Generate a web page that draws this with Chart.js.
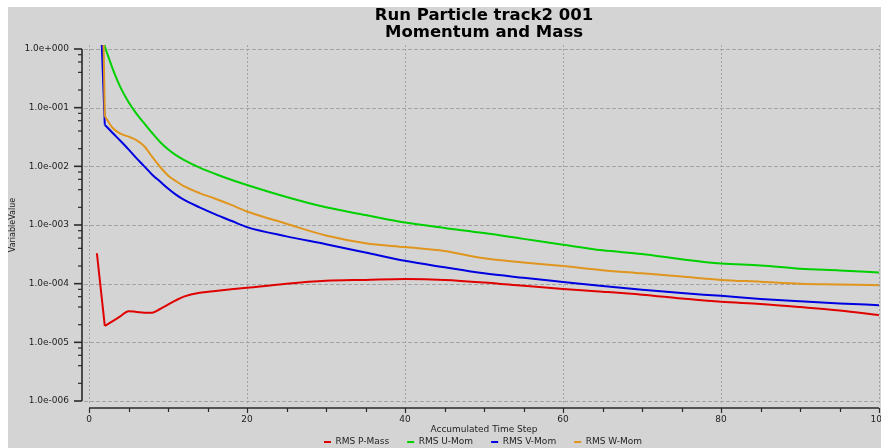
<!DOCTYPE html>
<html>
<head>
<meta charset="utf-8">
<script src="https://cdn.jsdelivr.net/npm/chart.js@4.4.1/dist/chart.umd.min.js"></script>
<style>
  html, body { margin: 0; padding: 0; background: #ffffff; width: 881px; height: 448px; overflow: hidden; }
  #wrap { position: absolute; left: 8px; top: 7px; width: 873px; height: 441px; }
  #chart { background: #d4d4d4; display: block; }
</style>
</head>
<body>
<div id="wrap"><canvas id="chart" width="873" height="441"></canvas></div>
<script>
// Accumulated time steps at which the residuals are sampled
const steps = [1, 2, 3, 4, 5, 6, 7, 8, 9, 10, 11, 12, 14, 16, 18, 20, 25, 30, 35, 40, 45,
               50, 55, 60, 65, 70, 75, 80, 85, 90, 95, 100];

// RMS residuals per equation
const rmsPMass = [3.3e-4, 1.9e-5, 2.3e-5, 2.8e-5, 3.4e-5, 3.3e-5, 3.2e-5, 3.2e-5, 3.7e-5, 4.4e-5, 5.2e-5,
                  6.0e-5, 7.0e-5, 7.5e-5, 8.0e-5, 8.5e-5, 1.0e-4, 1.12e-4, 1.16e-4, 1.2e-4, 1.16e-4,
                  1.05e-4, 9.2e-5, 8.1e-5, 7.3e-5, 6.5e-5, 5.6e-5, 4.9e-5, 4.5e-5, 4.0e-5, 3.5e-5, 2.9e-5];
const rmsUMom  = [1e4, 1.1, 0.46, 0.22, 0.125, 0.079, 0.054, 0.037, 0.026, 0.0195, 0.0155,
                  0.0129, 0.0095, 0.0074, 0.0059, 0.0048, 0.0030, 0.0020, 0.00148, 0.0011, 0.00089,
                  0.00073, 0.00058, 0.00046, 0.00037, 0.00032, 0.00026, 0.00022, 0.000205, 0.00018, 0.000168, 0.000155];
const rmsVMom  = [200, 0.051, 0.037, 0.027, 0.0195, 0.0138, 0.010, 0.0072, 0.0055, 0.0042, 0.0033,
                  0.0027, 0.0020, 0.00152, 0.00118, 0.00092, 0.00064, 0.00047, 0.00034, 0.000245, 0.00019,
                  0.00015, 0.000126, 0.000107, 0.000091, 0.000079, 0.000069, 0.000062, 0.000055, 0.00005, 0.000046, 0.000043];
const rmsWMom  = [5e6, 0.072, 0.045, 0.036, 0.032, 0.028, 0.022, 0.0145, 0.0098, 0.0070, 0.0056,
                  0.0046, 0.0035, 0.0028, 0.0022, 0.0017, 0.00105, 0.00066, 0.00049, 0.00042, 0.00036,
                  0.00027, 0.00023, 0.0002, 0.00017, 0.00015, 0.000132, 0.000116, 0.000108, 0.0001, 0.000097, 0.000094];

const seriesLabels = ['RMS P-Mass', 'RMS U-Mom', 'RMS V-Mom', 'RMS W-Mom'];
const seriesColors = ['#e00000', '#00d000', '#0000e0', '#e0961e'];

// Axis ticks
const yTickValues = [1e-6, 1e-5, 1e-4, 1e-3, 1e-2, 1e-1, 1];
const yTickLabels = ['1.0e-006', '1.0e-005', '1.0e-004', '1.0e-003', '1.0e-002', '1.0e-001', '1.0e+000'];
const yMinorFactors = [2, 4, 6, 8];
const xMajorTicks = [0, 20, 40, 60, 80, 100];
const xMinorStep = 5;

const FONT = 'DejaVu Sans';
const TEXT = '#1e1e1e';

const allSeries = [rmsPMass, rmsUMom, rmsVMom, rmsWMom];

// Grid, offset axis lines with their tick marks, and the legend row
const axisDecor = {
  id: 'axisDecor',
  beforeDatasetsDraw(chart) {
    const { ctx, chartArea: a, scales: { x, y } } = chart;
    ctx.save();
    ctx.lineWidth = 1;
    ctx.strokeStyle = '#a4a4a4';
    ctx.setLineDash([4, 2]);
    for (const v of yTickValues) {
      const py = Math.round(y.getPixelForValue(v)) + 0.5;
      ctx.beginPath(); ctx.moveTo(a.left - 5, py); ctx.lineTo(a.right + 5, py); ctx.stroke();
    }
    ctx.setLineDash([2, 2]);
    for (const v of xMajorTicks) {
      const px = Math.round(x.getPixelForValue(v)) + 0.5;
      ctx.beginPath(); ctx.moveTo(px, a.top - 4); ctx.lineTo(px, a.bottom + 4); ctx.stroke();
    }
    ctx.restore();
  },
  afterDraw(chart) {
    const { ctx, chartArea: a, scales: { x, y } } = chart;
    ctx.save();
    ctx.strokeStyle = '#2a2a2a';
    ctx.lineWidth = 1.6;
    // y axis
    const ax = a.left - 7;
    const yTop = y.getPixelForValue(yTickValues[yTickValues.length - 1]);
    const yBot = y.getPixelForValue(yTickValues[0]);
    ctx.beginPath(); ctx.moveTo(ax, yTop); ctx.lineTo(ax, yBot); ctx.stroke();
    for (const v of yTickValues) {
      const py = y.getPixelForValue(v);
      ctx.beginPath(); ctx.moveTo(ax - 8, py); ctx.lineTo(ax, py); ctx.stroke();
    }
    ctx.lineWidth = 1.2;
    for (let i = 0; i < yTickValues.length - 1; i++) {
      for (const f of yMinorFactors) {
        const py = y.getPixelForValue(yTickValues[i] * f);
        ctx.beginPath(); ctx.moveTo(ax - 4, py); ctx.lineTo(ax, py); ctx.stroke();
      }
    }
    // x axis
    ctx.lineWidth = 1.6;
    const ay = a.bottom + 7;
    const x0 = x.getPixelForValue(xMajorTicks[0]);
    const x1 = x.getPixelForValue(xMajorTicks[xMajorTicks.length - 1]);
    ctx.beginPath(); ctx.moveTo(x0, ay); ctx.lineTo(x1, ay); ctx.stroke();
    ctx.lineWidth = 1.2;
    for (let v = xMajorTicks[0]; v <= xMajorTicks[xMajorTicks.length - 1]; v += xMinorStep) {
      const px = Math.round(x.getPixelForValue(v)) + 0.5;
      const len = xMajorTicks.includes(v) ? 5 : 4;
      ctx.beginPath(); ctx.moveTo(px, ay); ctx.lineTo(px, ay + len); ctx.stroke();
    }
    // legend (one entry per series; start-up segments are not listed)
    ctx.font = '9px "' + FONT + '"';
    ctx.textBaseline = 'middle';
    ctx.textAlign = 'left';
    const dash = 7, gap = 4.5, spacing = 18;
    const items = chart.data.datasets.filter(d => !d.startUp)
      .map(d => ({ label: d.label, color: d.borderColor, w: ctx.measureText(d.label).width }));
    const total = items.reduce((s, it) => s + dash + gap + it.w, 0) + spacing * (items.length - 1);
    let lx = (a.left + a.right) / 2 - total / 2 - 1;
    const ly = 435;
    for (const it of items) {
      ctx.fillStyle = it.color;
      ctx.fillRect(lx, ly - 1, dash, 2);
      ctx.fillStyle = TEXT;
      ctx.fillText(it.label, lx + dash + gap, ly);
      lx += dash + gap + it.w + spacing;
    }
    ctx.restore();
  }
};

const clipBox = { left: 5, top: 4, right: 5, bottom: 4 };
const datasets = [];
allSeries.forEach((vals, k) => {
  // converged part of the history, smoothed
  datasets.push({
    label: seriesLabels[k],
    data: steps.slice(1).map((s, i) => ({ x: s, y: vals[i + 1] })),
    borderColor: seriesColors[k],
    backgroundColor: seriesColors[k],
    borderWidth: 2,
    pointRadius: 0,
    cubicInterpolationMode: 'monotone',
    order: 4 - k,
    clip: clipBox
  });
  // first time step joined straight to the second
  datasets.push({
    label: seriesLabels[k],
    startUp: true,
    data: steps.slice(0, 2).map((s, i) => ({ x: s, y: vals[i] })),
    borderColor: seriesColors[k],
    backgroundColor: seriesColors[k],
    borderWidth: 2,
    pointRadius: 0,
    tension: 0,
    order: 4 - k,
    clip: clipBox
  });
});

new Chart(document.getElementById('chart'), {
  type: 'line',
  data: { datasets },
  options: {
    responsive: false,
    animation: false,
    devicePixelRatio: 1,
    layout: { padding: { left: 0, right: 2, top: 0, bottom: 0 }, autoPadding: false },
    plugins: {
      legend: { display: false },
      tooltip: { enabled: false },
      title: {
        display: true,
        fullSize: false,
        text: ['Run Particle track2 001', 'Momentum and Mass'],
        color: '#000000',
        font: { family: FONT, size: 16.5, weight: 'bold', lineHeight: 17 / 16.5 },
        padding: { top: 0.5, bottom: 7.5 }
      }
    },
    scales: {
      x: {
        type: 'linear',
        min: 0,
        max: 100,
        grid: { display: false, drawTicks: false },
        border: { display: false },
        ticks: { stepSize: 20, padding: 13, maxRotation: 0, autoSkip: false, color: TEXT, font: { family: FONT, size: 9 } },
        title: { display: true, text: 'Accumulated Time Step', color: TEXT, font: { family: FONT, size: 9 }, padding: { top: 0, bottom: 12.6 } },
        afterFit: s => { s.height = 47; s.paddingLeft = 0; s.paddingRight = 0; }
      },
      y: {
        type: 'logarithmic',
        min: yTickValues[0],
        max: yTickValues[yTickValues.length - 1],
        grid: { display: false, drawTicks: false },
        border: { display: false },
        afterBuildTicks: s => { s.ticks = yTickValues.map(v => ({ value: v })); },
        ticks: {
          padding: 20,
          color: TEXT,
          font: { family: FONT, size: 9 },
          callback: v => yTickLabels[yTickValues.findIndex(t => Math.abs(Math.log10(t) - Math.log10(v)) < 1e-6)]
        },
        title: { display: true, text: 'VariableValue', color: TEXT, font: { family: FONT, size: 8 }, padding: { top: 0, bottom: 0 } },
        afterFit: s => { s.width = 81; s.paddingTop = 0; s.paddingBottom = 0; }
      }
    }
  },
  plugins: [axisDecor]
});
</script>
</body>
</html>
